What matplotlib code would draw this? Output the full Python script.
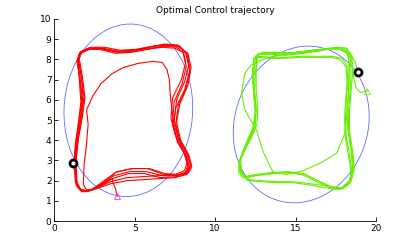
import matplotlib
matplotlib.use('Agg')
from matplotlib import pyplot as plt
from matplotlib.patches import Ellipse

# reference ellipses (center x, center y, width, height, angle)
ell_left = (4.6, 5.48, 7.98, 8.56, -12)
ell_right = (15.35, 4.78, 8.64, 7.54, 25)

# red robot laps
red_laps = [
    ([3.9, 3.8, 3.65, 3.6, 3.0, 2.4, 2.0, 1.8, 1.85, 2.0, 2.1, 2.0, 2.4, 2.9, 3.6, 4.3, 5.2, 6.1, 6.7, 7.0, 7.15, 7.2, 7.3, 7.4, 7.7, 8.15, 8.35, 8.2, 7.6],
     [1.25, 1.6, 1.9, 2.1, 1.85, 1.55, 1.55, 1.8, 2.8, 3.8, 4.8, 5.5, 6.2, 6.8, 7.3, 7.6, 7.8, 7.9, 7.85, 7.5, 7.0, 6.3, 5.6, 4.9, 4.1, 3.35, 2.75, 2.4, 2.25]),
    ([1.45, 1.6, 2.1, 2.9, 3.9, 4.9, 5.9, 6.8, 7.6, 8.15, 8.35, 8.1, 7.6, 7.45, 7.7, 8.2, 8.45, 8.3, 7.7, 6.8, 5.8, 4.8, 3.8, 3.0, 2.3, 1.8, 1.4, 1.25, 1.35, 1.55, 1.7, 1.6, 1.45],
     [8.0, 8.35, 8.55, 8.55, 8.4, 8.45, 8.6, 8.75, 8.7, 8.35, 7.7, 6.9, 6.0, 5.0, 4.2, 3.4, 2.8, 2.45, 2.3, 2.3, 2.6, 2.6, 2.4, 1.9, 1.55, 1.45, 1.75, 2.8, 3.9, 5.0, 5.9, 7.0, 8.0]),
    ([1.5, 1.65, 2.2, 3.0, 4.0, 5.0, 6.0, 6.9, 7.6, 8.05, 8.2, 7.95, 7.45, 7.35, 7.6, 8.1, 8.3, 8.15, 7.6, 6.7, 5.7, 4.7, 3.7, 2.9, 2.2, 1.7, 1.35, 1.3, 1.45, 1.65, 1.8, 1.7, 1.5],
     [7.95, 8.3, 8.5, 8.5, 8.35, 8.4, 8.55, 8.65, 8.6, 8.3, 7.65, 6.8, 5.9, 4.9, 4.1, 3.3, 2.75, 2.4, 2.25, 2.25, 2.45, 2.45, 2.25, 1.8, 1.5, 1.45, 1.8, 2.9, 4.0, 5.1, 6.0, 7.0, 7.95]),
    ([1.55, 1.7, 2.3, 3.1, 4.1, 5.1, 6.1, 7.0, 7.7, 8.25, 8.45, 8.2, 7.7, 7.55, 7.8, 8.3, 8.5, 8.25, 7.6, 6.6, 5.6, 4.6, 3.6, 2.8, 2.1, 1.65, 1.4, 1.35, 1.5, 1.75, 1.9, 1.75, 1.55],
     [8.05, 8.4, 8.6, 8.6, 8.45, 8.5, 8.65, 8.75, 8.7, 8.25, 7.5, 6.6, 5.7, 4.8, 4.0, 3.3, 2.7, 2.35, 2.2, 2.15, 2.35, 2.35, 2.1, 1.7, 1.5, 1.55, 1.9, 3.0, 4.1, 5.2, 6.1, 7.1, 8.05]),
    ([1.4, 1.55, 2.0, 2.8, 3.8, 4.8, 5.8, 6.7, 7.5, 8.0, 8.15, 7.9, 7.35, 7.25, 7.5, 8.0, 8.25, 8.1, 7.5, 6.5, 5.5, 4.5, 3.5, 2.7, 2.1, 1.6, 1.3, 1.25, 1.4, 1.6, 1.75, 1.6, 1.4],
     [7.9, 8.3, 8.5, 8.5, 8.3, 8.35, 8.5, 8.6, 8.55, 8.35, 7.8, 7.0, 6.1, 5.1, 4.3, 3.5, 2.9, 2.5, 2.3, 2.25, 2.2, 2.15, 1.95, 1.65, 1.5, 1.55, 1.95, 2.9, 3.9, 5.0, 6.0, 7.0, 7.9]),
    ([1.5, 1.7, 2.2, 3.0, 4.0, 5.0, 6.1, 7.1, 7.8, 8.3, 8.4, 8.1, 7.55, 7.4, 7.65, 8.2, 8.4, 8.2, 7.5, 6.5, 5.5, 4.5, 3.5, 2.6, 2.0, 1.6, 1.35, 1.3, 1.45, 1.7, 1.85, 1.7, 1.5],
     [8.0, 8.35, 8.55, 8.55, 8.4, 8.42, 8.55, 8.7, 8.65, 8.2, 7.4, 6.5, 5.6, 4.7, 3.9, 3.2, 2.65, 2.3, 2.15, 2.1, 2.05, 2.0, 1.85, 1.6, 1.45, 1.6, 2.0, 3.0, 4.0, 5.1, 6.1, 7.0, 8.0]),
    ([1.45, 1.6, 2.1, 2.9, 3.9, 4.9, 5.9, 6.8, 7.7, 8.3, 8.5, 8.3, 7.8, 7.6, 7.85, 8.35, 8.55, 8.35, 7.8, 6.9, 5.9, 4.9, 3.9, 3.1, 2.4, 1.9, 1.5, 1.2, 1.3, 1.5, 1.65, 1.55, 1.45],
     [8.0, 8.35, 8.55, 8.55, 8.35, 8.4, 8.6, 8.7, 8.65, 8.3, 7.6, 6.7, 5.8, 4.9, 4.0, 3.3, 2.7, 2.4, 2.3, 2.35, 2.6, 2.6, 2.45, 2.0, 1.6, 1.45, 1.6, 2.7, 3.8, 4.9, 5.9, 7.0, 8.0]),
]

# green robot laps
green_laps = [
    ([19.45, 19.05, 18.75, 18.6, 18.5, 18.2, 17.5, 16.5, 15.5, 14.5, 13.6, 12.9, 12.2, 11.84, 11.64, 11.8, 12.2, 12.57, 13.0, 13.58, 14.43, 15.5, 16.5, 17.55, 18.07, 18.28, 18.3, 18.35, 18.2, 17.6],
     [6.45, 6.35, 6.6, 7.2, 7.9, 8.4, 8.55, 8.45, 8.3, 8.25, 8.15, 7.97, 7.7, 7.31, 6.32, 5.6, 5.0, 4.5, 3.4, 2.44, 2.3, 2.5, 2.86, 3.35, 4.34, 6.0, 7.0, 7.8, 8.3, 8.55]),
    ([12.6, 12.9, 13.6, 14.5, 15.5, 16.5, 17.5, 18.1, 18.4, 18.45, 18.4, 18.3, 18.3, 18.5, 18.6, 18.4, 17.9, 17.2, 16.4, 15.5, 14.5, 13.5, 12.5, 11.8, 11.5, 11.5, 11.8, 12.2, 12.5, 12.55, 12.45, 12.5, 12.6],
     [8.2, 8.3, 8.3, 8.25, 8.35, 8.45, 8.6, 8.55, 8.2, 7.4, 6.5, 5.5, 4.5, 3.5, 2.6, 2.0, 1.65, 1.7, 2.0, 2.35, 2.45, 2.4, 2.3, 2.2, 2.5, 3.0, 3.5, 4.1, 4.7, 5.5, 6.4, 7.3, 8.2]),
    ([12.5, 12.8, 13.5, 14.4, 15.4, 16.4, 17.4, 18.0, 18.3, 18.35, 18.3, 18.2, 18.25, 18.45, 18.55, 18.35, 17.8, 17.1, 16.3, 15.4, 14.4, 13.4, 12.4, 11.7, 11.45, 11.5, 11.75, 12.1, 12.4, 12.5, 12.4, 12.4, 12.5],
     [8.15, 8.25, 8.25, 8.2, 8.3, 8.4, 8.55, 8.5, 8.15, 7.4, 6.5, 5.5, 4.5, 3.5, 2.6, 2.0, 1.6, 1.65, 1.95, 2.3, 2.4, 2.35, 2.25, 2.15, 2.45, 2.95, 3.45, 4.0, 4.6, 5.4, 6.3, 7.2, 8.15]),
    ([12.4, 12.7, 13.4, 14.3, 15.3, 16.3, 17.2, 17.8, 18.15, 18.2, 18.1, 18.05, 18.1, 18.3, 18.45, 18.3, 17.7, 16.8, 15.8, 14.8, 13.8, 12.8, 12.0, 11.6, 11.5, 11.7, 12.0, 12.35, 12.5, 12.4, 12.3, 12.4],
     [8.05, 8.1, 8.05, 8.05, 8.1, 8.1, 8.1, 8.0, 7.6, 6.8, 5.9, 5.0, 4.1, 3.2, 2.4, 1.8, 1.55, 1.65, 1.8, 1.9, 1.9, 1.95, 2.0, 2.4, 2.9, 3.4, 4.0, 4.6, 5.4, 6.3, 7.2, 8.05]),
    ([12.5, 12.8, 13.5, 14.4, 15.4, 16.4, 17.3, 17.9, 18.2, 18.25, 18.15, 18.1, 18.15, 18.35, 18.5, 18.35, 17.8, 16.9, 15.9, 14.9, 13.9, 12.9, 12.1, 11.65, 11.55, 11.75, 12.1, 12.4, 12.55, 12.45, 12.35, 12.5],
     [8.1, 8.15, 8.1, 8.1, 8.15, 8.15, 8.15, 8.05, 7.7, 6.9, 6.0, 5.1, 4.2, 3.3, 2.5, 1.9, 1.6, 1.75, 1.85, 1.95, 1.95, 2.0, 2.05, 2.45, 2.95, 3.5, 4.1, 4.7, 5.5, 6.4, 7.3, 8.1]),
    ([12.65, 12.95, 13.7, 14.6, 15.6, 16.6, 17.6, 18.2, 18.5, 18.55, 18.45, 18.35, 18.35, 18.55, 18.65, 18.45, 17.95, 17.3, 16.5, 15.6, 14.6, 13.6, 12.6, 11.9, 11.6, 11.6, 11.9, 12.3, 12.6, 12.65, 12.55, 12.55, 12.65, 13.0, 14.0, 15.0, 16.0, 17.0, 17.9, 18.45, 18.75, 18.86],
     [8.25, 8.35, 8.35, 8.3, 8.4, 8.5, 8.6, 8.55, 8.15, 7.35, 6.45, 5.45, 4.45, 3.45, 2.55, 1.95, 1.6, 1.65, 1.95, 2.3, 2.4, 2.35, 2.25, 2.15, 2.5, 3.05, 3.6, 4.2, 4.8, 5.6, 6.5, 7.4, 8.25, 8.3, 8.3, 8.35, 8.45, 8.5, 8.5, 8.2, 7.8, 7.36]),
]

# start (triangle) and current (ring) positions
red_start = (3.9, 1.25)
red_now = (1.18, 2.85)
green_start = (19.45, 6.45)
green_now = (18.86, 7.36)

fig = plt.figure(figsize=(4.15, 2.49), dpi=100)
ax = fig.add_axes([0.131, 0.112, 0.775, 0.812])

for cx, cy, w, h, ang in [ell_left, ell_right]:
    ax.add_patch(Ellipse((cx, cy), w, h, angle=ang, fill=False, ec='#5a6cff', lw=0.6))

for xs, ys in red_laps:
    ax.plot(xs, ys, color='#ff0000', lw=0.8)
for xs, ys in green_laps:
    ax.plot(xs, ys, color='#66ee00', lw=0.8)

ax.plot(*red_start, marker='^', ms=4, mfc='none', mec='#ff33ff', mew=0.6)
ax.plot(*green_start, marker='^', ms=4, mfc='none', mec='#66ee00', mew=0.6)
for p in [red_now, green_now]:
    ax.plot(*p, marker='o', ms=5, mfc='white', mec='black', mew=2)

ax.set_xlim(0, 20)
ax.set_ylim(0, 10)
ax.set_xticks([0, 5, 10, 15, 20])
ax.set_yticks(range(11))
ax.spines['top'].set_visible(False)
ax.spines['right'].set_visible(False)
ax.spines['left'].set_linewidth(0.6)
ax.spines['bottom'].set_linewidth(0.6)
ax.tick_params(direction='in', length=3, width=0.6, labelsize=6.5, pad=2)
ax.set_title('Optimal Control trajectory', fontsize=6.5, pad=4)

fig.savefig('out.png', dpi=100)
